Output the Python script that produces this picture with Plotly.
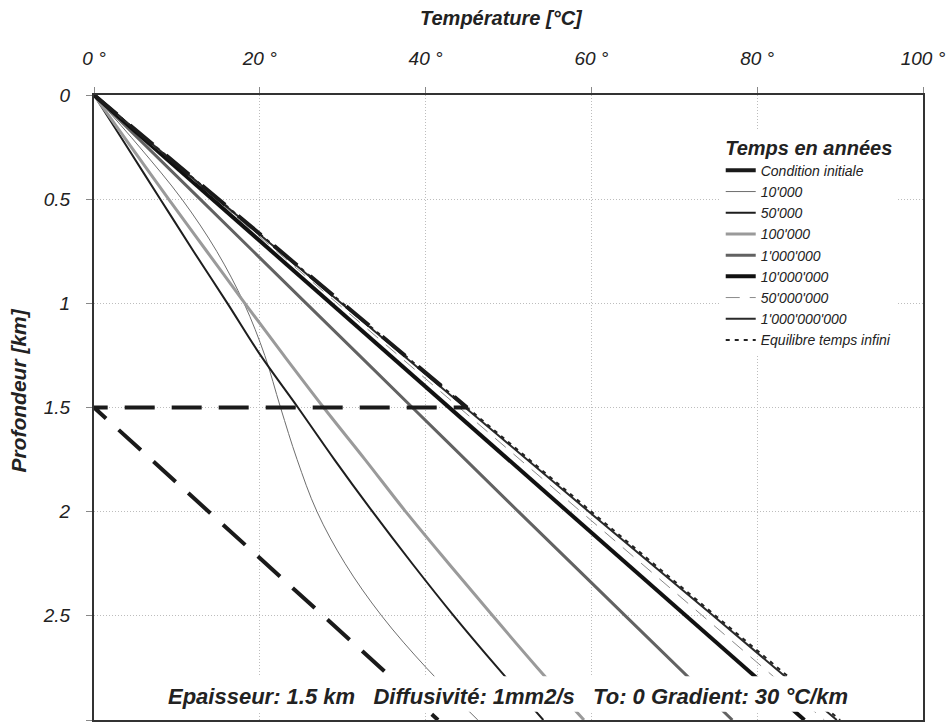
import plotly.graph_objects as go

# ---- data ----
DEPTH_FINE = [0, 0.25, 0.5, 0.75, 1.0, 1.25, 1.5, 1.75, 2.0, 2.25, 2.5, 2.75, 3.0]
DEPTH_COARSE = [0, 0.5, 1.0, 1.5, 2.0, 2.5, 3.0]

INIT_DEPTH = [0, 1.5, 1.5, 3.0]
INIT_TEMP = [0, 45, 0, 41.5]

T_10K = [0, 5.5, 10.6, 14.8, 18.1, 20.6, 22.5, 24.5, 26.9, 30.3, 34.7, 40.1, 46.3]
T_50K = [0, 4.0, 8.0, 12.0, 16.1, 20.1, 24.6, 29.0, 33.6, 38.4, 43.4, 48.7, 54.2]
T_100K = [0, 4.5, 9.0, 13.6, 18.2, 22.9, 27.7, 32.7, 37.6, 42.8, 48.1, 53.5, 59.1]
T_1M = [0, 12.8, 25.6, 38.4, 51.2, 64.1, 77.0]
T_10M = [0, 14.3, 28.6, 42.9, 57.1, 71.4, 85.7]
T_50M = [0, 14.7, 29.4, 44.0, 58.7, 73.4, 88.1]
T_1G = [0, 14.9, 29.9, 44.8, 59.7, 74.7, 89.6]
T_EQ = [0, 15, 30, 45, 60, 75, 90]

X_TICKS = [0, 20, 40, 60, 80, 100]
X_TICKTEXT = ["0 °", "20 °", "40 °", "60 °", "80 °", "100 °"]
Y_TICKS = [0, 0.5, 1, 1.5, 2, 2.5, 3]
Y_TICKTEXT = ["0", "0.5", "1", "1.5", "2", "2.5", "3"]

FONT = "Liberation Sans, Arial, sans-serif"

fig = go.Figure()

series = [
    ("10'000", T_10K, DEPTH_FINE, dict(color="#6e6e6e", width=1, shape="spline"), 2),
    ("50'000", T_50K, DEPTH_FINE, dict(color="#1e1e1e", width=2, shape="spline"), 3),
    ("100'000", T_100K, DEPTH_FINE, dict(color="#9a9a9a", width=3, shape="spline"), 4),
    ("1'000'000", T_1M, DEPTH_COARSE, dict(color="#626262", width=3, shape="spline"), 5),
    ("10'000'000", T_10M, DEPTH_COARSE, dict(color="#111111", width=4), 6),
    ("50'000'000", T_50M, DEPTH_COARSE, dict(color="#8a8a8a", width=1, dash="14px,10px"), 7),
    ("1'000'000'000", T_1G, DEPTH_COARSE, dict(color="#2a2a2a", width=2), 8),
    ("Equilibre temps infini", T_EQ, DEPTH_COARSE, dict(color="#222222", width=2, dash="4px,5px"), 9),
]
for name, t, d, line, rank in series:
    fig.add_trace(go.Scatter(x=t, y=d, mode="lines", name=name, line=line, legendrank=rank))

fig.add_trace(go.Scatter(x=INIT_TEMP, y=INIT_DEPTH, mode="lines", name="Condition initiale",
                         line=dict(color="#1a1a1a", width=4, dash="30px,17px"), legendrank=1))

italic = dict(family=FONT, style="italic", color="#222222")
bold_italic = dict(family=FONT, style="italic", weight="bold", color="#222222")

fig.update_xaxes(
    side="top", range=[0, 100], tickvals=X_TICKS, ticktext=X_TICKTEXT,
    tickfont=dict(size=19, **italic),
    showgrid=True, gridcolor="#bdbdbd", griddash="1px,2px", gridwidth=1,
    showline=True, linecolor="#333333", linewidth=2, mirror=True,
    ticks="outside", ticklen=6, tickcolor="#888888", ticklabelstandoff=14,
    zeroline=False, automargin=False,
)
fig.update_yaxes(
    range=[3, 0], tickvals=Y_TICKS, ticktext=Y_TICKTEXT,
    tickfont=dict(size=19, **italic),
    showgrid=True, gridcolor="#bdbdbd", griddash="1px,2px", gridwidth=1,
    showline=True, linecolor="#333333", linewidth=2, mirror=True,
    ticks="outside", ticklen=6, tickcolor="#888888", ticklabelstandoff=12,
    zeroline=False, automargin=False,
)

# axis titles as annotations, placed where the reference puts them
fig.add_annotation(x=0.492, y=1.123, xref="paper", yref="paper", showarrow=False,
                   text="Température [°C]", xanchor="center", yanchor="middle",
                   font=dict(size=20, **bold_italic))
fig.add_annotation(x=-0.0905, y=0.527, xref="paper", yref="paper", showarrow=False,
                   text="Profondeur [km]", textangle=-90,
                   xanchor="center", yanchor="middle",
                   font=dict(size=21, **bold_italic))

fig.add_shape(type="rect", xref="x", yref="y", x0=0.3, x1=99.7, y0=2.79, y1=2.96,
              fillcolor="white", line=dict(width=0), layer="above")
fig.add_annotation(x=49.9, y=2.885, xref="x", yref="y", showarrow=False,
                   text="Epaisseur: 1.5 km\u00a0\u00a0 Diffusivité: 1mm2/s\u00a0\u00a0 To: 0 Gradient: 30 °C/km",
                   font=dict(size=22, **bold_italic))

fig.update_layout(
    width=947, height=724,
    margin=dict(l=94, r=24, t=95, b=4),
    paper_bgcolor="white", plot_bgcolor="white",
    legend=dict(
        x=0.756, y=0.946, xanchor="left", yanchor="top",
        bgcolor="white", borderwidth=0,
        font=dict(size=14, **italic),
        title=dict(text="Temps en années", side="top center",
                   font=dict(size=20, **bold_italic)),
    ),
)

fig.write_html("out.html")
